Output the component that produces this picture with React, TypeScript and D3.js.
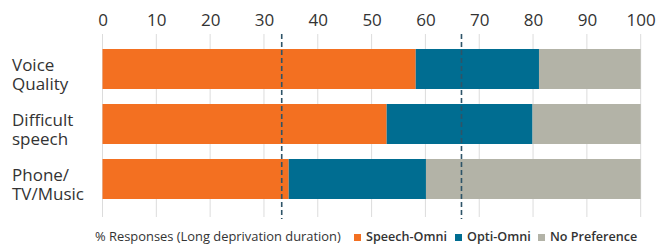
import { useEffect, useRef } from 'react';
import * as d3 from 'd3';

const categories = ["Voice\nQuality", "Difficult\nspeech", "Phone/\nTV/Music"];
const speechOmni = [58.2, 52.8, 34.6];
const optiOmni = [22.9, 27.1, 25.5];
const noPreference = [18.9, 20.1, 39.9];
const chanceLines = [33.3, 66.7];
const xTicks = [0, 10, 20, 30, 40, 50, 60, 70, 80, 90, 100];
const seriesNames = ["Speech-Omni", "Opti-Omni", "No Preference"];
const COLORS = ["#f37021", "#006d91", "#b3b3a7"];
const FONT = "'Open Sans', 'Noto Sans', sans-serif";

export default function App() {
    const svgRef = useRef<SVGSVGElement | null>(null);

    useEffect(() => {
        if (!svgRef.current) return;
        const svg = d3.select(svgRef.current);
        svg.selectAll("*").remove();

        const x = d3.scaleLinear().domain([0, 100]).range([102.5, 640.7]);
        const y = d3.scaleBand().domain(categories).range([49, 199]).paddingInner(15 / 55).paddingOuter(0);

        // grid
        svg.append("g").selectAll("line").data(xTicks).join("line")
            .attr("x1", d => x(d)).attr("x2", d => x(d))
            .attr("y1", 34).attr("y2", 217)
            .attr("stroke", "#dcdcdc").attr("stroke-width", 1);

        // top axis labels
        const ax = svg.append("g").attr("transform", "translate(0,26)")
            .call(d3.axisTop(x).tickValues(xTicks).tickSize(0).tickPadding(0).tickFormat(d3.format("d")));
        ax.select(".domain").remove();
        ax.selectAll("text").attr("font-family", FONT).attr("font-size", 17).attr("fill", "#333").attr("dy", 0);

        // stacked bars
        const stackData = categories.map((c, i) => ({ c, s0: speechOmni[i], s1: optiOmni[i], s2: noPreference[i] }));
        const stack = d3.stack<any>().keys(["s0", "s1", "s2"])(stackData);
        svg.append("g").selectAll("g").data(stack).join("g")
            .attr("fill", (_, i) => COLORS[i])
            .selectAll("rect").data(d => d).join("rect")
            .attr("x", d => x(d[0]))
            .attr("width", d => x(d[1]) - x(d[0]))
            .attr("y", d => y(d.data.c) as number)
            .attr("height", y.bandwidth());

        // chance lines
        svg.append("g").selectAll("line").data(chanceLines).join("line")
            .attr("x1", d => x(d)).attr("x2", d => x(d))
            .attr("y1", 34).attr("y2", 219)
            .attr("stroke", "#2e5468").attr("stroke-width", 1.6)
            .attr("stroke-dasharray", "5,3");

        // category labels
        const lab = svg.append("g").selectAll("text").data(categories).join("text")
            .attr("x", 12)
            .attr("font-family", FONT).attr("font-size", 17).attr("fill", "#333");
        lab.each(function (d) {
            const cy = (y(d) as number) + y.bandwidth() / 2;
            d.split("\n").forEach((line, i) => {
                d3.select(this).append("tspan").attr("x", 12).attr("y", cy + 2 + i * 19).text(line);
            });
        });

        // legend
        const leg = svg.append("g").attr("font-family", FONT).attr("fill", "#333");
        leg.append("text").attr("x", 95).attr("y", 241).attr("font-size", 12.9)
            .text("% Responses (Long deprivation duration)");
        const legX = [354, 455, 538];
        seriesNames.forEach((n, i) => {
            leg.append("rect").attr("x", legX[i]).attr("y", 234).attr("width", 7).attr("height", 7).attr("fill", COLORS[i]);
            leg.append("text").attr("x", legX[i] + 12).attr("y", 241)
                .attr("font-size", 12.6).attr("font-weight", 600).text(n);
        });
    }, []);

    return (
        <div style={{ position: "absolute", left: 0, top: 0 }}>
            <svg ref={svgRef} width={669} height={249} style={{ display: "block", background: "#fff" }} />
        </div>
    );
}
